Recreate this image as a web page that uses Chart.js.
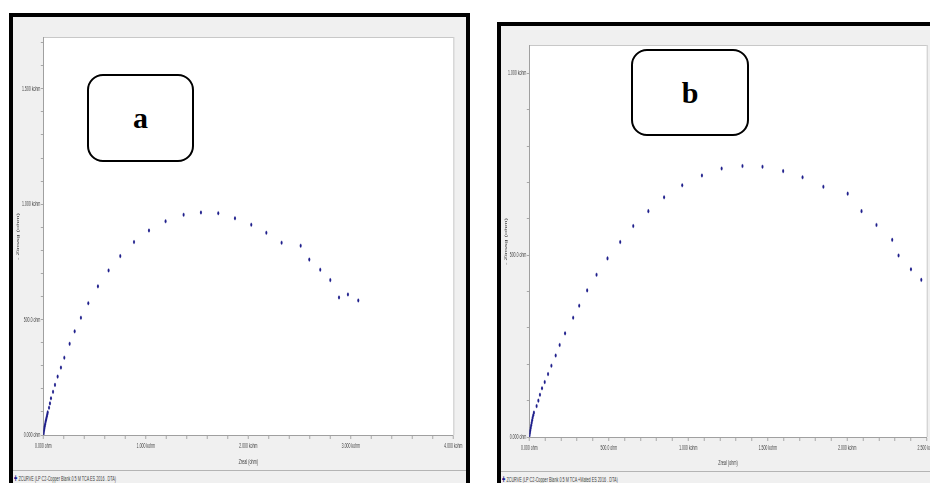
<!DOCTYPE html>
<html>
<head>
<meta charset="utf-8">
<script src="https://cdn.jsdelivr.net/npm/chart.js@4.4.1/dist/chart.umd.min.js"></script>
<style>
  html, body { margin: 0; padding: 0; width: 930px; height: 483px; overflow: hidden; background: #fff; }
  .panel { position: absolute; border: 4px solid #000; background: #f0f0f0; box-sizing: border-box; overflow: hidden; }
  .panel canvas { position: absolute; left: 0; top: 0; }
  .legend { position: absolute; left: 0; right: 0; height: 30px; border-top: 1px solid #b4b4b4; }
  .legend span { position: absolute; left: 1px; top: 3px; white-space: nowrap; transform: scaleX(0.5); transform-origin: 0 50%;
                 font: 7.5px "Liberation Sans", Arial, sans-serif; color: #404040; }
  .legend b { color: #1e1e8c; font: bold 8px "DejaVu Sans", sans-serif; }
  .tag { position: absolute; border: 2px solid #000; border-radius: 16px; background: #fff; box-sizing: border-box;
         display: flex; align-items: center; justify-content: center;
         font: bold 30px "Liberation Serif", "Times New Roman", serif; color: #000; }
</style>
</head>
<body>
<div class="panel" id="panelA" style="left:9px; top:13px; width:461px; height:490px;">
  <canvas id="chartA" width="906" height="452" style="width:453px; height:452px;"></canvas>
  <div class="legend" style="top:453px;"><span id="legendA"></span></div>
</div>
<div class="panel" id="panelB" style="left:497px; top:22px; width:470px; height:480px;">
  <canvas id="chartB" width="880" height="444" style="width:440px; height:444px;"></canvas>
  <div class="legend" style="top:445px;"><span id="legendB"></span></div>
</div>
<div class="tag" style="left:87px; top:74px; width:107px; height:88px;">a</div>
<div class="tag" style="left:631px; top:49px; width:118px; height:87px;">b</div>

<script>
// Nyquist data, blank solution (panel a)
const zRealA = [0, 3, 5, 8, 11, 14, 18, 22, 26, 30, 35, 39, 43, 56, 65, 75, 95, 114, 140, 172, 205, 257, 306, 367, 439,
                533, 637, 751, 885, 1031, 1193, 1369, 1538, 1707, 1870, 2029, 2176, 2325, 2511, 2595, 2702, 2800, 2885, 2972, 3073];
const zImagA = [0, 7, 14, 22, 30, 38, 47, 56, 64, 72, 81, 90, 98, 118, 137, 159, 187, 217, 253, 292, 335, 395, 449, 508, 571,
                644, 713, 775, 836, 886, 926, 954, 964, 961, 939, 911, 876, 833, 820, 760, 716, 671, 596, 609, 583];

// Nyquist data, with inhibitor (panel b)
const zRealB = [0, 2, 4, 6, 9, 12, 15, 18, 21, 25, 29, 46, 57, 67, 80, 97, 118, 139, 166, 191, 225, 276, 314, 364, 423,
                492, 572, 654, 749, 848, 962, 1086, 1210, 1341, 1467, 1597, 1719, 1850, 2003, 2090, 2184, 2283, 2323, 2401, 2466];
const zImagB = [0, 6, 12, 18, 25, 32, 39, 46, 53, 60, 67, 85, 100, 116, 134, 151, 173, 196, 224, 253, 285, 328, 361, 403, 446,
                491, 536, 580, 621, 659, 692, 719, 738, 745, 743, 731, 714, 688, 669, 621, 583, 542, 499, 461, 432];

// Labelled tick values and their texts
const xTicksA = [0, 1000, 2000, 3000, 4000];
const xTickLabelsA = ['0.000 ohm', '1.000 kohm', '2.000 kohm', '3.000 kohm', '4.000 kohm'];
const yTicksA = [0, 500, 1000, 1500];
const yTickLabelsA = ['0.000 ohm', '500.0 ohm', '1.000 kohm', '1.500 kohm'];

const xTicksB = [0, 500, 1000, 1500, 2000, 2500];
const xTickLabelsB = ['0.000 ohm', '500.0 ohm', '1.000 kohm', '1.500 kohm', '2.000 kohm', '2.500 kohm'];
const yTicksB = [0, 500, 1000];
const yTickLabelsB = ['0.000 ohm', '500.0 ohm', '1.000 kohm'];

const legendTextA = 'ZCURVE (LP C2-Copper  Blank 0.5 M TCA ES 2016 . DTA)';
const legendTextB = 'ZCURVE (LP C2-Copper  Blank 0.5 M TCA +Mated ES 2016 . DTA)';

const xTitle = 'Zreal (ohm)';
const yTitle = '- Zimag (ohm)';

document.getElementById('legendA').innerHTML = '<b>\u271A</b> ' + legendTextA;
document.getElementById('legendB').innerHTML = '<b>\u271A</b> ' + legendTextB;

// White plotting field with a thin grey frame
const plotFrame = {
  id: 'plotFrame',
  beforeDraw(chart) {
    const { ctx, chartArea: a } = chart;
    ctx.save();
    ctx.fillStyle = '#ffffff';
    ctx.fillRect(a.left, a.top, a.right - a.left, a.bottom - a.top);
    ctx.fillStyle = '#c8c8c8';
    ctx.fillRect(a.left, a.top - 1, a.right - a.left, 1);
    ctx.fillRect(a.right, a.top - 1, 2, a.bottom - a.top + 1);
    ctx.restore();
  }
};

const tickFont = { family: '"Liberation Sans", Arial, sans-serif', size: 7 };
const titleFont = { family: '"Liberation Sans", Arial, sans-serif', size: 7.5 };

function stepTicks(max, step) {
  const out = [];
  for (let v = 0; v <= max + 1e-9; v += step) out.push({ value: v });
  return out;
}

function labelFor(values, labels) {
  return (v) => {
    const i = values.indexOf(v);
    return i >= 0 ? labels[i] : '';
  };
}

function nyquist(id, cfg) {
  const points = cfg.re.map((x, i) => ({ x, y: cfg.im[i] }));
  return new Chart(document.getElementById(id), {
    type: 'scatter',
    data: {
      datasets: [{
        data: points,
        pointStyle: 'circle',
        pointRadius: 1.8,
        pointBorderWidth: 0.4,
        backgroundColor: '#1e1e8c',
        borderColor: '#1e1e8c'
      }]
    },
    options: {
      responsive: false,
      devicePixelRatio: 1,
      animation: false,
      events: [],
      layout: { padding: cfg.padding },
      plugins: { legend: { display: false }, tooltip: { enabled: false } },
      scales: {
        x: {
          type: 'linear', min: 0, max: cfg.xMax,
          afterBuildTicks: s => { s.ticks = stepTicks(cfg.xMax, cfg.xStep); },
          afterFit: s => { s.height = cfg.xAxisH; },
          border: { display: true, color: '#a0a0a0', width: 1 },
          grid: { drawOnChartArea: false, drawTicks: true, tickLength: 4, tickWidth: 2, color: '#a8a8a8' },
          ticks: { autoSkip: false, maxRotation: 0, padding: 3, font: tickFont, color: '#454545',
                   callback: labelFor(cfg.xTicks, cfg.xLabels) },
          title: { display: true, text: xTitle, font: titleFont, color: '#404040', padding: { top: 0, bottom: 3 } }
        },
        y: {
          type: 'linear', min: 0, max: cfg.yMax,
          afterBuildTicks: s => { s.ticks = stepTicks(cfg.yMax, cfg.yStep); },
          afterFit: s => { s.width = cfg.yAxisW; },
          border: { display: true, color: '#a0a0a0', width: 2 },
          grid: { drawOnChartArea: false, drawTicks: true, tickLength: 5, tickWidth: 1, color: '#a8a8a8' },
          ticks: { autoSkip: false, padding: 1, font: tickFont, color: '#454545',
                   callback: labelFor(cfg.yTicks, cfg.yLabels) },
          title: { display: true, text: yTitle, font: titleFont, color: '#404040', padding: { top: 5.5, bottom: 0 } }
        }
      }
    },
    plugins: [plotFrame]
  });
}

nyquist('chartA', {
  re: zRealA, im: zImagA,
  xMax: 4000, xStep: 200, yMax: 1720, yStep: 100,
  xTicks: xTicksA, xLabels: xTickLabelsA, yTicks: yTicksA, yLabels: yTickLabelsA,
  xAxisH: 34, yAxisW: 60.6,
  padding: { left: 0, right: 25.4, top: 21, bottom: 0 }
});

nyquist('chartB', {
  re: zRealB, im: zImagB,
  xMax: 2500, xStep: 100, yMax: 1075, yStep: 100,
  xTicks: xTicksB, xLabels: xTickLabelsB, yTicks: yTicksB, yLabels: yTickLabelsB,
  xAxisH: 33, yAxisW: 56.6,
  padding: { left: 0, right: 28.6, top: 20, bottom: 0 }
});
</script>
</body>
</html>
